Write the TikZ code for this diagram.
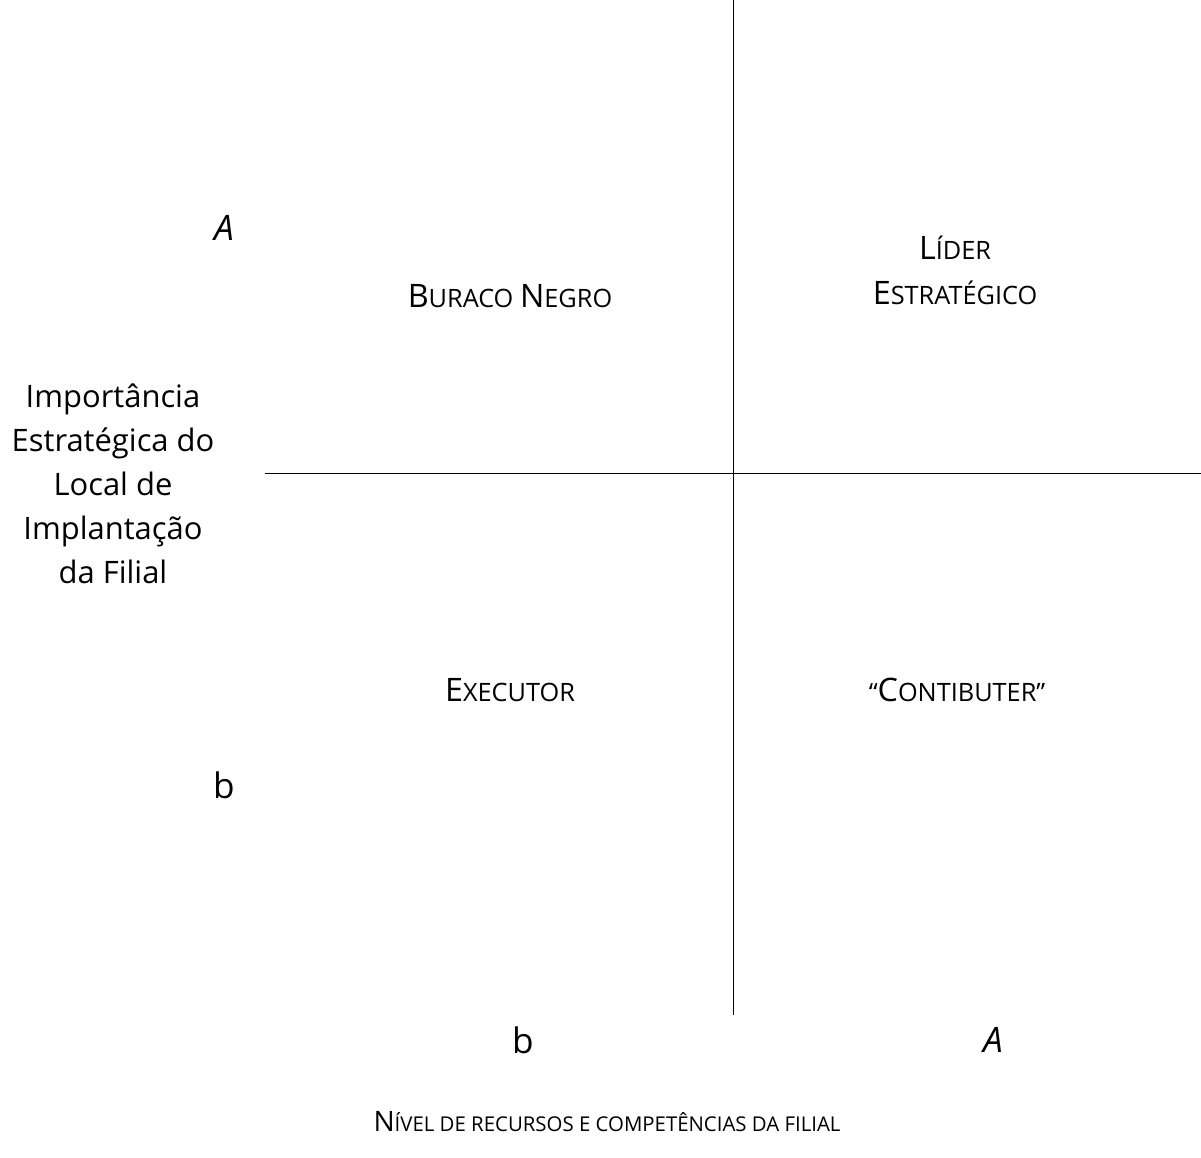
\documentclass[tikz,border=0pt]{standalone}
\usepackage{fontspec}
\setmainfont{Open Sans}
\usepackage{tikz}

% small caps made by hand (the font has none)
\newcommand{\bigsc}[1]{{\fontsize{20}{32}\selectfont #1}}
\newcommand{\lowsc}[1]{{\fontsize{14.5}{32}\selectfont #1}}
\newcommand{\qbig}[1]{{\fontsize{23}{32}\selectfont #1}}
\newcommand{\qlow}[1]{{\fontsize{18}{32}\selectfont #1}}

\begin{document}
\begin{tikzpicture}[x=0.25mm,y=-0.25mm]
\useasboundingbox[fill=white] (0,0) rectangle (1201,1157);
\coordinate (vtop) at (733,0);
\coordinate (vbot) at (733,1015);
\coordinate (hleft) at (265,473);
\coordinate (hright) at (1201,473);
\draw[line width=0.5pt] (vtop) -- (vbot);
\draw[line width=0.5pt] (hleft) -- (hright);
\node[font={\fontsize{25}{30}\selectfont\itshape}] (ahigh) at (224,228) {A};
\node[font={\fontsize{25}{30}\selectfont}] (blow) at (224,785) {b};
\node[font={\fontsize{25}{30}\selectfont}] (bleft) at (523,1040) {b};
\node[font={\fontsize{25}{30}\selectfont\itshape}] (aright) at (993,1040) {A};
\node[align=center,font={\fontsize{22}{31.2}\selectfont}] (importancia) at (113,484) {Importância\\Estratégica do\\Local de\\Implantação\\da Filial};
\node (buraco) at (510,296) {\qbig{B}\qlow{URACO }\qbig{N}\qlow{EGRO}};
\node[align=center,font={\fontsize{23}{32}\selectfont}] (lider) at (955,270) {\qbig{L}\qlow{ÍDER}\\\qbig{E}\qlow{STRATÉGICO}};
\node (executor) at (510,690) {\qbig{E}\qlow{XECUTOR}};
\node (contibuter) at (957,690) {\qlow{“}\qbig{C}\qlow{ONTIBUTER”}};
\node (nivel) at (607,1122) {\bigsc{N}\lowsc{ÍVEL DE RECURSOS E COMPETÊNCIAS DA FILIAL}};
\end{tikzpicture}
\end{document}
